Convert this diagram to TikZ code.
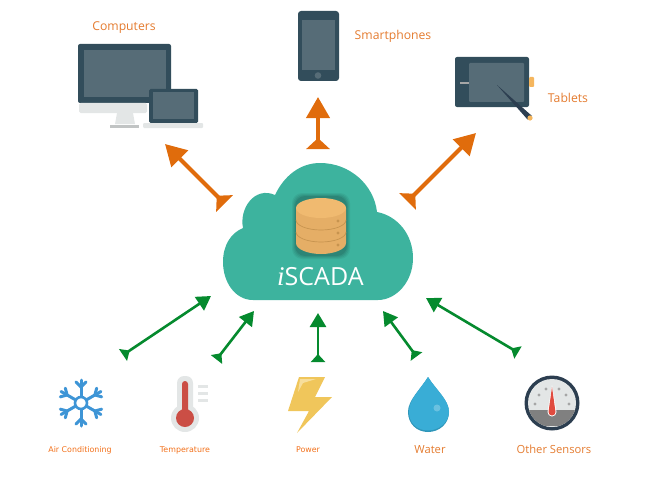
\documentclass[tikz,border=0pt]{standalone}
\usepackage{fontspec}
\setmainfont{Open Sans}
\newfontfamily\smallfont{DejaVu Sans}
\usetikzlibrary{arrows.meta}
\definecolor{orangearrow}{HTML}{E06C0C}
\definecolor{greenarrow}{HTML}{058A2E}
\definecolor{labelorange}{HTML}{E47B2F}
\definecolor{smallorange}{HTML}{F2701A}
\definecolor{cloudteal}{HTML}{3DB39E}
\definecolor{navy}{HTML}{324D5B}
\definecolor{screengrey}{HTML}{566C77}
\definecolor{silver}{HTML}{E3E6E6}
\definecolor{dbtop}{HTML}{F0BA70}
\definecolor{dbbody}{HTML}{E5AE66}
\definecolor{dbline}{HTML}{C7944F}
\definecolor{flake}{HTML}{3E95D6}
\definecolor{thermred}{HTML}{CB4E45}
\definecolor{bolt}{HTML}{F0C65B}
\definecolor{boltlight}{HTML}{F7DE9C}
\definecolor{drop}{HTML}{39ADD6}
\definecolor{dropdark}{HTML}{2F96B9}
\definecolor{needle}{HTML}{E04B3F}
\definecolor{gaugering}{HTML}{2C3E50}
\definecolor{tabamber}{HTML}{F5B65E}
\tikzset{
  bigarrow/.style={draw=orangearrow,line width=4pt,{Triangle[reversed,length=11pt,width=23pt]}-{Triangle[length=21pt,width=23pt]}},
  greenlink/.style={draw=greenarrow,line width=2.6pt,{Triangle[reversed,length=8pt,width=14pt]}-{Triangle[length=14pt,width=16pt]}},
  biglabel/.style={font=\fontsize{12.2}{14}\selectfont,text=labelorange,inner sep=0pt,anchor=base},
  smalllabel/.style={font=\smallfont\fontsize{7.9}{9}\selectfont,text=smallorange,inner sep=0pt,anchor=base},
  flakearm/.style={draw=flake,line width=3pt,line cap=round},
}
\begin{document}
\begin{tikzpicture}[x=1pt,y=-1pt]
\useasboundingbox (0,0) rectangle (668,484);
% cloud
\fill[cloudteal] (253,300) .. controls (235,300) and (223,282) .. (223,262)
  .. controls (223,245) and (231,233) .. (243,228)
  .. controls (239,208) and (255,186) .. (275,195)
  .. controls (284,176) and (300,163) .. (320,163)
  .. controls (350,163) and (374,185) .. (377,212)
  .. controls (398,216) and (413,235) .. (413,258)
  .. controls (413,282) and (396,300) .. (378,300) -- cycle;
% database
\foreach \g/\o in {4/.05,3/.06,2/.07,1/.09}{
  \fill[black,opacity=\o,rounded corners=10pt] ({296-\g},{197-\g}) rectangle ({346+\g},{255+\g});}
\fill[dbbody] (296,208) -- (296,243) arc[start angle=180,end angle=0,x radius=25,y radius=11] -- (346,208) -- cycle;
\draw[dbline,line width=.7pt] (296,220) arc[start angle=180,end angle=0,x radius=25,y radius=10];
\draw[dbline,line width=.7pt] (296,232) arc[start angle=180,end angle=0,x radius=25,y radius=10];
\fill[dbtop] (321,208) ellipse[x radius=25,y radius=10];
\foreach \yy in {221,233,245}{\fill[dbline] (338,\yy) circle[radius=1.7];}
\node[text=white,inner sep=0pt,anchor=base west] (iscada) at (277,285.5) {{\setmainfont{Liberation Serif}\fontsize{27}{27}\selectfont\itshape i}\fontsize{25}{27}\selectfont SCADA};
% connector ends
\coordinate (c1a) at (224.5,203.5); \coordinate (c1b) at (165,144);
\coordinate (c2a) at (318,149);     \coordinate (c2b) at (318,97);
\coordinate (c3a) at (407.5,201.5); \coordinate (c3b) at (476,133);
\coordinate (g1a) at (123,355);     \coordinate (g1b) at (211,296);
\coordinate (g2a) at (216.5,359.5); \coordinate (g2b) at (254,311);
\coordinate (g3a) at (318,362);     \coordinate (g3b) at (318,313);
\coordinate (g4a) at (416.5,356.5); \coordinate (g4b) at (383,311);
\coordinate (g5a) at (518,352.5);   \coordinate (g5b) at (426,298);
\draw[bigarrow] (c1a) -- (c1b);
\draw[bigarrow] (c2a) -- (c2b);
\draw[bigarrow] (c3a) -- (c3b);
\draw[greenlink] (g1a) -- (g1b);
\draw[greenlink] (g2a) -- (g2b);
\draw[greenlink] (g3a) -- (g3b);
\draw[greenlink] (g4a) -- (g4b);
\draw[greenlink] (g5a) -- (g5b);
% computers
\fill[navy,rounded corners=2pt] (78,44) rectangle (171,103);
\fill[screengrey] (84,50) rectangle (166,97);
\fill[silver,rounded corners=1.5pt] (79,103) rectangle (147,113);
\fill[silver] (117,113) -- (133,113) -- (135,124) -- (115,124) -- cycle;
\fill[silver!85!black] (110,125) rectangle (139,128);
\fill[navy,rounded corners=1.5pt] (149,89) rectangle (198,123);
\fill[screengrey] (153,92) rectangle (194,119);
\fill[silver,rounded corners=1pt] (143,123) rectangle (203,128);
% smartphone
\fill[navy,rounded corners=3pt] (298,11) rectangle (339,81);
\fill[screengrey] (302,20) rectangle (335,70);
\fill[screengrey] (318,75.5) circle[radius=3.3];
% tablet
\fill[navy,rounded corners=2pt] (455,57) rectangle (529,107);
\fill[screengrey,rounded corners=1pt] (469,63) rectangle (524,102);
\fill[gray!70] (460,82.5) rectangle (469,84.5);
\fill[tabamber,rounded corners=1pt] (529,77) rectangle (534,87);
\fill[gaugering] (497,85) -- (532,116) -- (527.5,119.5) -- cycle;
\fill[tabamber] (530,118) circle[radius=2.6];
% snowflake
\foreach \a in {30,90,150,210,270,330}{
  \begin{scope}[shift={(81,403)},rotate=\a]
    \draw[flakearm] (7,0) -- (23,0);
    \draw[flakearm] (16,0) -- (21,5);
    \draw[flakearm] (16,0) -- (21,-5);
  \end{scope}}
\draw[flake,line width=2.6pt] (81,403) circle[radius=6];
% thermometer
\fill[silver] (185,418) circle[radius=14];
\fill[silver,rounded corners=7pt] (177,376) rectangle (193,425);
\fill[thermred,rounded corners=3pt] (182,381) rectangle (188,415);
\fill[thermred] (185,418) circle[radius=9];
\foreach \yy in {386,393,400}{\fill[silver] (198,\yy-1.5) rectangle (208,\yy+1.5);}
% lightning
\fill[bolt] (299,377) -- (325,377) -- (315,397) -- (332,397) -- (297,433) -- (309,411) -- (288,411) -- cycle;
\fill[boltlight] (300,379) -- (316,379) -- (303,383) -- (298,392) -- cycle;
% water
\fill[dropdark] (428,377) .. controls (436,390) and (449,400) .. (449,412)
  .. controls (449,424) and (439,432) .. (428,432)
  .. controls (417,432) and (408,424) .. (408,412)
  .. controls (408,400) and (420,390) .. (428,377) -- cycle;
\fill[drop] (428,377) .. controls (436,390) and (449,400) .. (449,412)
  .. controls (449,422) and (439,430.5) .. (428,430.5)
  .. controls (417,430.5) and (409,423) .. (409,412)
  .. controls (408.5,400) and (420,390) .. (428,377) -- cycle;
\fill[white,opacity=.25] (437,408) circle[radius=3.5];
% gauge
\fill[gaugering] (552,403) circle[radius=27.5];
\fill[silver] (552,403) circle[radius=24];
\begin{scope}
  \clip (552,403) circle[radius=24];
  \fill[gray] (528,410) rectangle (576,428);
  \fill[silver] (528,425.5) rectangle (576,428);
\end{scope}
\fill[white] (552,385) -- (556.5,412) arc[start angle=0,end angle=180,radius=4.5] -- cycle;
\fill[needle] (552,387) -- (555.5,412) arc[start angle=0,end angle=180,radius=3.5] -- cycle;
\foreach \xx/\yy in {535/404,539/395,546/389,559/389,566/395,569/404}{
  \fill[gray!70] (\xx,\yy) circle[radius=1.6];}
% labels
\node[biglabel] (computers) at (124,30.5) {Computers};
\node[biglabel] (smartphones) at (393,39.5) {Smartphones};
\node[biglabel] (tablets) at (568,102.5) {Tablets};
\node[smalllabel] (ac) at (80,452) {Air Conditioning};
\node[smalllabel] (temp) at (185,452) {Temperature};
\node[smalllabel] (power) at (308,452) {Power};
\node[biglabel,font=\fontsize{11.2}{14}\selectfont] (water) at (430,453.5) {Water};
\node[biglabel,font=\fontsize{11.2}{14}\selectfont] (other) at (554,453.5) {Other Sensors};
\end{tikzpicture}
\end{document}
